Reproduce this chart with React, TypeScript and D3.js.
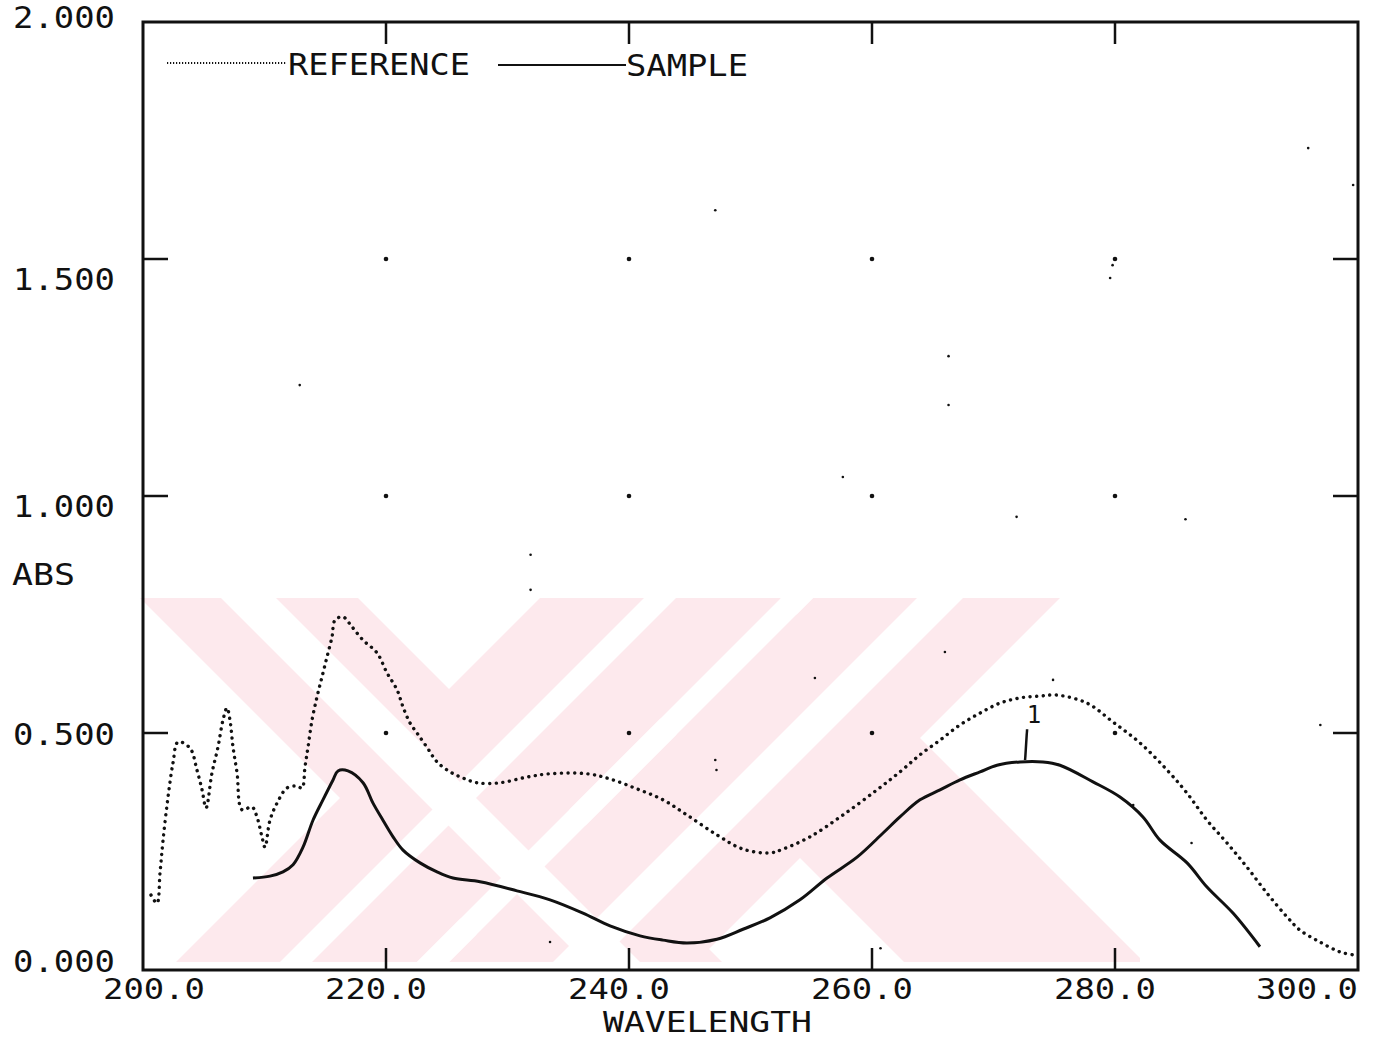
import React from "react";
import * as d3 from "d3";

const WIDTH = 1387;
const HEIGHT = 1040;

// Reference spectrum (dotted trace)
const refWavelength = [
  200.66, 201.15, 201.4, 201.65, 202.06, 202.47, 202.88, 203.87, 204.44, 204.86,
  205.19, 205.68, 206.17, 206.58, 206.91, 207.16, 207.41, 207.74, 208.15, 208.97,
  209.38, 209.79, 210.04, 210.45, 211.03, 211.85, 212.67, 213.09, 213.33, 213.58,
  213.91, 214.32, 214.73, 215.14, 215.56, 215.8, 216.46, 217.2, 218.11, 219.26,
  220.08, 220.91, 221.4, 221.98, 222.55, 223.37, 224.2, 225.27, 226.34, 227.49,
  229.38, 231.6, 233.5, 236.54, 238.44, 240.66, 242.8, 244.77, 247.24, 249.38,
  251.6, 252.67, 254.9, 257.61, 260.41, 262.3, 263.95, 265.6, 267.24, 268.89,
  270.53, 272.18, 273.83, 275.23, 277.7, 279.84, 282.06, 284.28, 285.93, 287.57,
  289.22, 290.86, 292.51, 294.16, 295.23, 296.87, 298.52, 299.59,
];
const refAbs = [
  0.158, 0.141, 0.205, 0.274, 0.365, 0.437, 0.481, 0.468, 0.422, 0.38,
  0.342, 0.416, 0.47, 0.527, 0.553, 0.527, 0.47, 0.416, 0.338, 0.344,
  0.323, 0.281, 0.259, 0.316, 0.352, 0.384, 0.388, 0.384, 0.428, 0.47,
  0.527, 0.576, 0.618, 0.66, 0.703, 0.738, 0.745, 0.724, 0.696, 0.669,
  0.627, 0.591, 0.555, 0.521, 0.5, 0.47, 0.439, 0.418, 0.405, 0.395,
  0.395, 0.407, 0.414, 0.414, 0.403, 0.382, 0.359, 0.327, 0.285, 0.255,
  0.247, 0.255, 0.281, 0.327, 0.38, 0.418, 0.454, 0.485, 0.517, 0.542,
  0.563, 0.574, 0.578, 0.58, 0.563, 0.523, 0.479, 0.422, 0.373, 0.316,
  0.268, 0.217, 0.162, 0.112, 0.084, 0.059, 0.038, 0.032,
];

// Sample spectrum (solid trace)
const sampleWavelength = [
  209.05, 210.45, 211.52, 212.35, 213.17, 213.99, 214.81, 215.64, 216.05, 216.87,
  218.11, 218.93, 219.75, 220.58, 221.4, 222.8, 224.2, 225.51, 227.74, 230.78,
  233.5, 236.21, 238.44, 240.91, 242.8, 244.77, 247.24, 249.38, 251.6, 254.07,
  256.3, 258.77, 260.91, 262.3, 263.95, 265.6, 267.24, 268.89, 270.29, 272.18,
  274.07, 275.47, 278.19, 280.41, 282.3, 283.7, 285.93, 287.57, 289.71, 291.93,
];
const sampleAbs = [
  0.194, 0.198, 0.207, 0.222, 0.259, 0.316, 0.359, 0.401, 0.42, 0.42,
  0.395, 0.352, 0.316, 0.281, 0.253, 0.226, 0.207, 0.194, 0.186, 0.167,
  0.148, 0.12, 0.093, 0.072, 0.063, 0.057, 0.065, 0.086, 0.11, 0.148,
  0.194, 0.238, 0.289, 0.323, 0.359, 0.38, 0.401, 0.418, 0.432, 0.439,
  0.439, 0.432, 0.397, 0.365, 0.323, 0.274, 0.226, 0.175, 0.12, 0.049,
];

// Peak marker on the sample trace
const peakWavelength = 272.6;
const peakAbs = 0.443;
const peakMarkTop = 0.508;
const peakLabel = "1";

const xTicks = [200, 220, 240, 260, 280, 300];
const xTickLabels = ["200.0", "220.0", "240.0", "260.0", "280.0", "300.0"];
const yTicks = [0, 0.5, 1, 1.5, 2];
const yTickLabels = ["0.000", "0.500", "1.000", "1.500", "2.000"];
const gridWavelengths = [220, 240, 260, 280];
const gridAbs = [0.5, 1, 1.5];

const legendNames = ["REFERENCE", "SAMPLE"];
const xTitle = "WAVELENGTH";
const yTitle = "ABS";

// Stray specks left on the plotter paper
const speckWavelength = [
  295.9, 299.6, 247.1, 212.9, 266.3, 266.3, 279.8, 279.6, 231.9, 231.9, 257.6,
  271.9, 285.8, 255.3, 266.0, 296.9, 274.9, 247.1, 247.2, 281.5, 286.3, 233.5, 260.7,
];
const speckAbs = [
  1.734, 1.656, 1.603, 1.234, 1.295, 1.192, 1.487, 1.46, 0.876, 0.802, 1.04,
  0.956, 0.951, 0.616, 0.671, 0.517, 0.612, 0.443, 0.422, 0.348, 0.268, 0.059, 0.046,
];

const FONT = "'DejaVu Sans Mono', monospace";
const INK = "#111";

export default function App() {
  const left = 143;
  const right = 1358;
  const top = 22;
  const bottom = 970;

  const x = d3.scaleLinear().domain([200, 300]).range([left, right]);
  const y = d3.scaleLinear().domain([0, 2]).range([bottom, top]);
  // the plotter spaces the value labels a little tighter than the ticks
  const yLabelPos = d3.scaleLinear().domain([0, 1.5]).range([972, 290]);

  const line = d3
    .line<[number, number]>()
    .x((d) => x(d[0]))
    .y((d) => y(d[1]))
    .curve(d3.curveCatmullRom.alpha(0.5));

  const refPts = refWavelength.map((w, i) => [w, refAbs[i]] as [number, number]);
  const samplePts = sampleWavelength.map((w, i) => [w, sampleAbs[i]] as [number, number]);

  const tickLen = 22;
  const labelW = 102;

  // faint watermark: two crossed pairs of diagonal bands, split by white stripes
  const wmTop = 598;
  const wmBottom = 962;
  const wmH = wmBottom - wmTop;
  const pinkBack: [number, number][] = [
    [140, 358],
    [540, 780],
  ];
  const pinkFwd: [number, number][] = [
    [540, 781],
    [813, 1060],
  ];
  const whiteBack: [number, number][] = [[221, 276]];
  const whiteFwd: [number, number][] = [
    [644, 676],
    [781, 813],
    [917, 963],
  ];
  const bandPath = (a: number, b: number, dir: number) =>
    `M${a},${wmTop}L${b},${wmTop}L${b + dir * wmH},${wmBottom}L${a + dir * wmH},${wmBottom}Z`;

  return (
    <svg
      width={WIDTH}
      height={HEIGHT}
      viewBox={`0 0 ${WIDTH} ${HEIGHT}`}
      style={{ position: "absolute", left: 0, top: 0, background: "#fff" }}
    >
      <rect x={0} y={0} width={WIDTH} height={HEIGHT} fill="#fff" />
      <defs>
        <clipPath id="wm-clip">
          <rect x={140} y={wmTop} width={1000} height={wmH} />
        </clipPath>
      </defs>
      <g clipPath="url(#wm-clip)">
        <g fill="#fde9ed">
          {pinkBack.map(([a, b], i) => (
            <path key={`pb${i}`} d={bandPath(a, b, 1)} />
          ))}
          {pinkFwd.map(([a, b], i) => (
            <path key={`pf${i}`} d={bandPath(a, b, -1)} />
          ))}
        </g>
        <g fill="#fff">
          {whiteBack.map(([a, b], i) => (
            <path key={`wb${i}`} d={bandPath(a, b, 1)} />
          ))}
          {whiteFwd.map(([a, b], i) => (
            <path key={`wf${i}`} d={bandPath(a, b, -1)} />
          ))}
        </g>
      </g>

      {/* frame */}
      <rect
        x={left}
        y={top}
        width={right - left}
        height={bottom - top}
        fill="none"
        stroke={INK}
        strokeWidth={3}
      />

      {/* ticks */}
      {gridWavelengths.map((w) => (
        <g key={`xt${w}`} stroke={INK} strokeWidth={2.5}>
          <line x1={x(w)} x2={x(w)} y1={top} y2={top + tickLen} />
          <line x1={x(w)} x2={x(w)} y1={bottom} y2={bottom - tickLen} />
        </g>
      ))}
      {gridAbs.map((v) => (
        <g key={`yt${v}`} stroke={INK} strokeWidth={2.5}>
          <line x1={left} x2={left + tickLen + 3} y1={y(v)} y2={y(v)} />
          <line x1={right} x2={right - tickLen - 3} y1={y(v)} y2={y(v)} />
        </g>
      ))}

      {/* grid dots */}
      {gridWavelengths.map((w) =>
        gridAbs.map((v) => (
          <circle key={`g${w}-${v}`} cx={x(w)} cy={y(v)} r={2.3} fill={INK} />
        ))
      )}

      {/* specks */}
      {speckWavelength.map((w, i) => (
        <circle key={`s${i}`} cx={x(w)} cy={y(speckAbs[i])} r={1.3} fill={INK} />
      ))}

      {/* traces */}
      <path
        d={line(refPts) ?? ""}
        fill="none"
        stroke={INK}
        strokeWidth={3.4}
        strokeLinecap="round"
        strokeDasharray="0.1 6.5"
      />
      <path
        d={line(samplePts) ?? ""}
        fill="none"
        stroke={INK}
        strokeWidth={3}
        strokeLinejoin="round"
      />

      {/* peak marker */}
      <line
        x1={x(peakWavelength)}
        x2={x(peakWavelength) + 2}
        y1={y(peakAbs)}
        y2={y(peakMarkTop)}
        stroke={INK}
        strokeWidth={2.5}
      />
      <text
        x={x(peakWavelength) + 9}
        y={y(peakMarkTop) - 6}
        fontFamily={FONT}
        fontSize={24}
        fill={INK}
        textAnchor="middle"
      >
        {peakLabel}
      </text>

      {/* y tick labels */}
      {yTicks.map((v, i) => {
        const base = v === 2 ? y(v) + 6 : yLabelPos(v);
        return (
          <text
            key={`yl${v}`}
            x={115 - labelW}
            y={base}
            fontFamily={FONT}
            fontSize={31}
            fill={INK}
            textLength={labelW}
            lengthAdjust="spacingAndGlyphs"
          >
            {yTickLabels[i]}
          </text>
        );
      })}

      {/* x tick labels */}
      {xTicks.map((w, i) => {
        const cx = Math.max(103 + labelW / 2, Math.min(right - labelW / 2, x(w) - 10));
        return (
          <text
            key={`xl${w}`}
            x={cx - labelW / 2}
            y={999}
            fontFamily={FONT}
            fontSize={28}
            fill={INK}
            textLength={labelW}
            lengthAdjust="spacingAndGlyphs"
          >
            {xTickLabels[i]}
          </text>
        );
      })}

      {/* axis titles */}
      <text
        x={603}
        y={1032}
        fontFamily={FONT}
        fontSize={28}
        fill={INK}
        textLength={209}
        lengthAdjust="spacingAndGlyphs"
      >
        {xTitle}
      </text>
      <text
        x={12}
        y={585}
        fontFamily={FONT}
        fontSize={31}
        fill={INK}
        textLength={63}
        lengthAdjust="spacingAndGlyphs"
      >
        {yTitle}
      </text>

      {/* legend */}
      <line
        x1={167}
        x2={287}
        y1={63}
        y2={63}
        stroke={INK}
        strokeWidth={2}
        strokeDasharray="1.2 1.8"
      />
      <text
        x={288}
        y={75}
        fontFamily={FONT}
        fontSize={31}
        fill={INK}
        textLength={182}
        lengthAdjust="spacingAndGlyphs"
      >
        {legendNames[0]}
      </text>
      <line x1={498} x2={626} y1={65} y2={65} stroke={INK} strokeWidth={2.2} />
      <text
        x={626}
        y={76}
        fontFamily={FONT}
        fontSize={31}
        fill={INK}
        textLength={122}
        lengthAdjust="spacingAndGlyphs"
      >
        {legendNames[1]}
      </text>
    </svg>
  );
}
